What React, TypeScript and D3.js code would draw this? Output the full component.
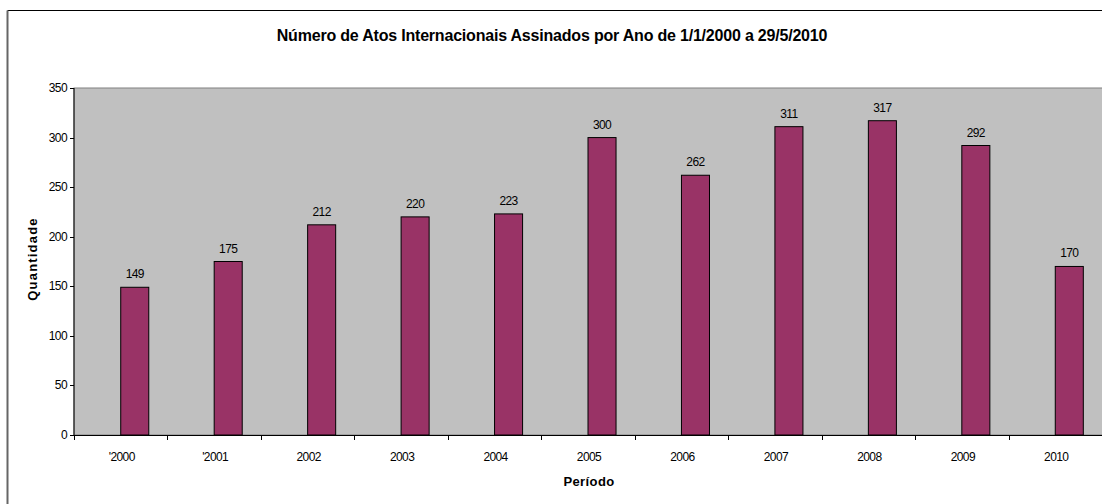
import React from "react";
import * as d3 from "d3";

const categories = ["'2000", "'2001", "2002", "2003", "2004", "2005", "2006", "2007", "2008", "2009", "2010"];
const values = [149, 175, 212, 220, 223, 300, 262, 311, 317, 292, 170];
const yTicks = [0, 50, 100, 150, 200, 250, 300, 350];

const W = 1102;
const H = 504;
const left = 74;
const right = 1102;
const top = 88;
const bottom = 435;
const font = "'Liberation Sans', Arial, sans-serif";

export default function App() {
  const x = d3.scaleBand<string>().domain(categories).range([left, right]);
  const y = d3.scaleLinear().domain([0, 350]).range([bottom, top]);
  const bw = x.bandwidth();
  const barW = bw * 0.3;

  return (
    <svg width={W} height={H} style={{ position: "fixed", left: 0, top: 0, background: "#fff" }}>
      <rect x={0} y={0} width={W} height={H} fill="#fff" />
      {/* outer chart border */}
      <line x1={7.5} y1={10.5} x2={W + 5} y2={10.5} stroke="#000" strokeWidth={1} />
      <line x1={7.5} y1={10.5} x2={7.5} y2={H + 5} stroke="#666" strokeWidth={2} />
      <text x={552} y={41} textAnchor="middle" fontFamily={font} fontWeight="bold" fontSize={16} letterSpacing={-0.2} fill="#000">
        Número de Atos Internacionais Assinados por Ano de 1/1/2000 a 29/5/2010
      </text>
      {/* plot area */}
      <rect x={left} y={top} width={right - left + 2} height={bottom - top} fill="#c0c0c0" stroke="#808080" strokeWidth={1} />
      {categories.map((c, i) => {
        const cx = (x(c) as number) + bw / 2;
        const v = values[i];
        return (
          <g key={c}>
            <rect x={cx} y={y(v)} width={barW} height={bottom - y(v)} fill="#993366" stroke="#000" strokeWidth={1} />
            <text x={cx + barW / 2} y={y(v) - 9} textAnchor="middle" fontFamily={font} fontSize={12} letterSpacing={-0.6} fill="#000">
              {v}
            </text>
          </g>
        );
      })}
      {/* y axis */}
      <line x1={left} y1={top} x2={left} y2={bottom} stroke="#000" />
      {yTicks.map((t) => (
        <g key={t}>
          <line x1={left - 4} x2={left} y1={Math.round(y(t)) + 0.5} y2={Math.round(y(t)) + 0.5} stroke="#000" />
          <text x={left - 7} y={y(t) + 4} textAnchor="end" fontFamily={font} fontSize={12} letterSpacing={-0.6} fill="#000">
            {t}
          </text>
        </g>
      ))}
      {/* x axis */}
      <line x1={left} y1={bottom + 0.5} x2={right} y2={bottom + 0.5} stroke="#000" />
      {categories.map((c) => (
        <line key={"t" + c} x1={Math.round(x(c) as number) + 0.5} x2={Math.round(x(c) as number) + 0.5} y1={bottom} y2={bottom + 5} stroke="#000" />
      ))}
      {categories.map((c) => (
        <text key={"l" + c} x={(x(c) as number) + bw / 2 + 1} y={461} textAnchor="middle" fontFamily={font} fontSize={12} letterSpacing={-0.6} fill="#000">
          {c}
        </text>
      ))}
      <text x={589} y={486} textAnchor="middle" fontFamily={font} fontWeight="bold" fontSize={13} letterSpacing={0.4} fill="#000">
        Período
      </text>
      <text transform={`translate(37, 259) rotate(-90)`} textAnchor="middle" fontFamily={font} fontWeight="bold" fontSize={13} letterSpacing={1.2} fill="#000">
        Quantidade
      </text>
    </svg>
  );
}
